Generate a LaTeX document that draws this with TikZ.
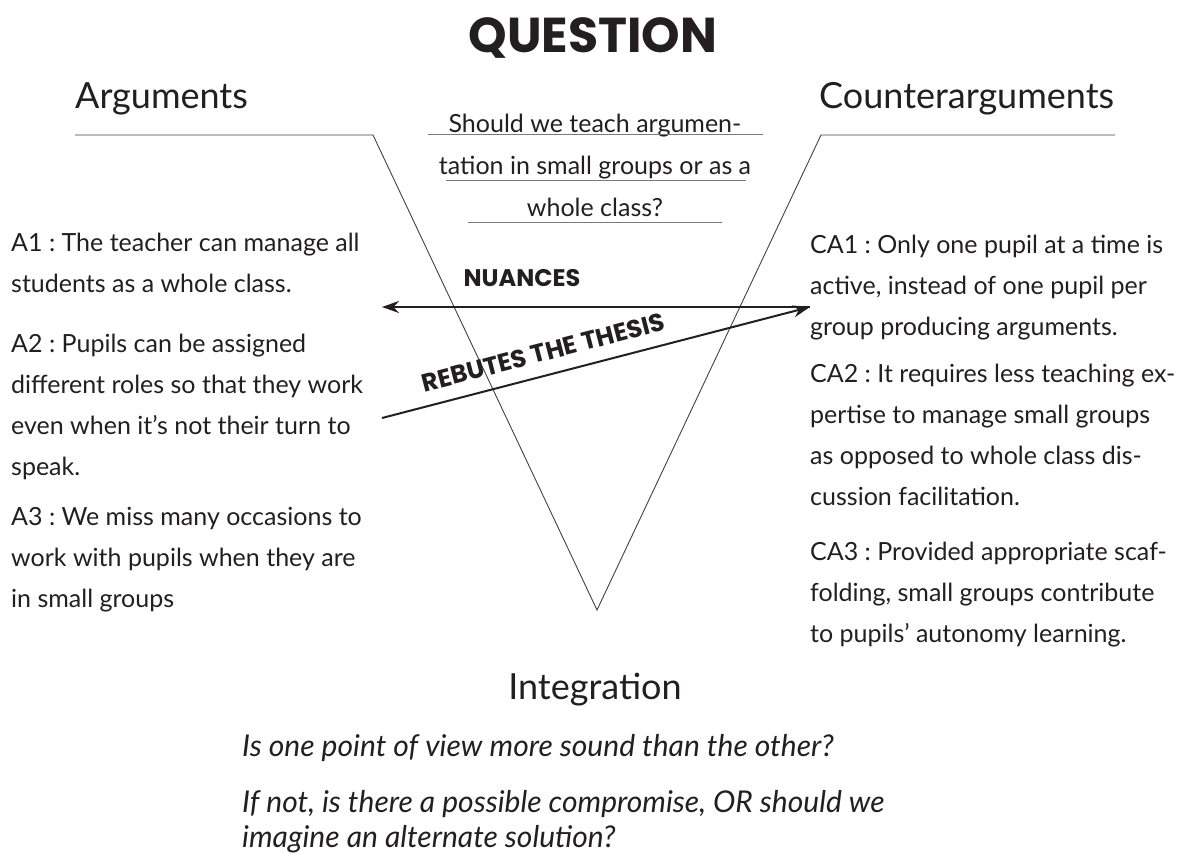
\documentclass[tikz,border=0pt]{standalone}
\usepackage{fontspec}
\setmainfont{Lato}
\newfontfamily\brushfont{Poppins}
\usetikzlibrary{arrows.meta}
\definecolor{ink}{HTML}{231F20}
\definecolor{rule}{HTML}{7A7A7C}
\frenchspacing

\begin{document}
\begin{tikzpicture}[x=1pt,y=-1pt,
    every node/.style={inner sep=0pt,text=ink},
    body/.style={anchor=base west,align=left,font=\fontsize{25}{41}\selectfont},
    head/.style={anchor=base west,font=\fontsize{36}{42}\selectfont},
    brush/.style={font=\brushfont\bfseries\fontsize{24}{28}\selectfont},
    dart/.style={line width=2pt,draw=ink,-{Stealth[length=17pt,width=12pt]}}]
  \useasboundingbox (0,0) rectangle (1178,854);
  % titre
  \node[brush,font=\brushfont\bfseries\fontsize{49}{52}\selectfont] (title) at (593,38) {QUESTION};
  % V
  \draw[ink!85,line width=0.9pt] (75,135) -- (373,135) -- (597,610) -- (821,135) -- (1115,135);
  \node[head] (args) at (75,108) {Arguments};
  \node[head] (counter) at (819,108) {Counterarguments};
  % question (base = last line)
  \node[body,anchor=base,align=center,font=\fontsize{25}{42}\selectfont] (quest) at (595,216)
    {Should we teach argumen-\\tation in small groups or as a\\whole class?};
  \draw[rule] (428,134) -- (763,134);
  \draw[rule] (446,180) -- (746,180);
  \draw[rule] (468,222) -- (722,222);
  % fleches
  \coordinate (nuStart) at (810,307);
  \coordinate (nuEnd) at (382,307);
  \draw[dart] (nuStart) -- (nuEnd);
  \node[brush] (nuances) at (522,278) {NUANCES};
  \coordinate (rbStart) at (382,418);
  \coordinate (rbEnd) at (810,307);
  \draw[dart] (rbStart) -- node[brush,font=\brushfont\bfseries\fontsize{25}{28}\selectfont,sloped,pos=0.39,above=13pt] (rebut) {REBUTES THE THESIS} (rbEnd);
  % arguments
  \node[body] (a1) at (11,292) {A1 : The teacher can manage all\\students as a whole class.};
  \node[body] (a2) at (11,475) {A2 : Pupils can be assigned\\different roles so that they work\\even when it’s not their turn to\\speak.};
  \node[body] (a3) at (11,607) {A3 : We miss many occasions to\\work with pupils when they are\\in small groups};
  % contre-arguments
  \node[body] (ca1) at (810,335) {CA1 : Only one pupil at a time is\\active, instead of one pupil per\\group producing arguments.};
  \node[body] (ca2) at (810,505) {CA2 : It requires less teaching ex-\\pertise to manage small groups\\as opposed to whole class dis-\\cussion facilitation.};
  \node[body] (ca3) at (810,642) {CA3 : Provided appropriate scaf-\\folding, small groups contribute\\to pupils’ autonomy learning.};
  % integration
  \node[head,anchor=base] (integ) at (595,699) {Integration};
  \node[body,font=\itshape\fontsize{30}{35}\selectfont] (q1) at (242,756) {Is one point of view more sound than the other?};
  \node[body,font=\itshape\fontsize{30}{35}\selectfont] (q2) at (242,847) {If not, is there a possible compromise, OR should we\\imagine an alternate solution?};
\end{tikzpicture}
\end{document}
